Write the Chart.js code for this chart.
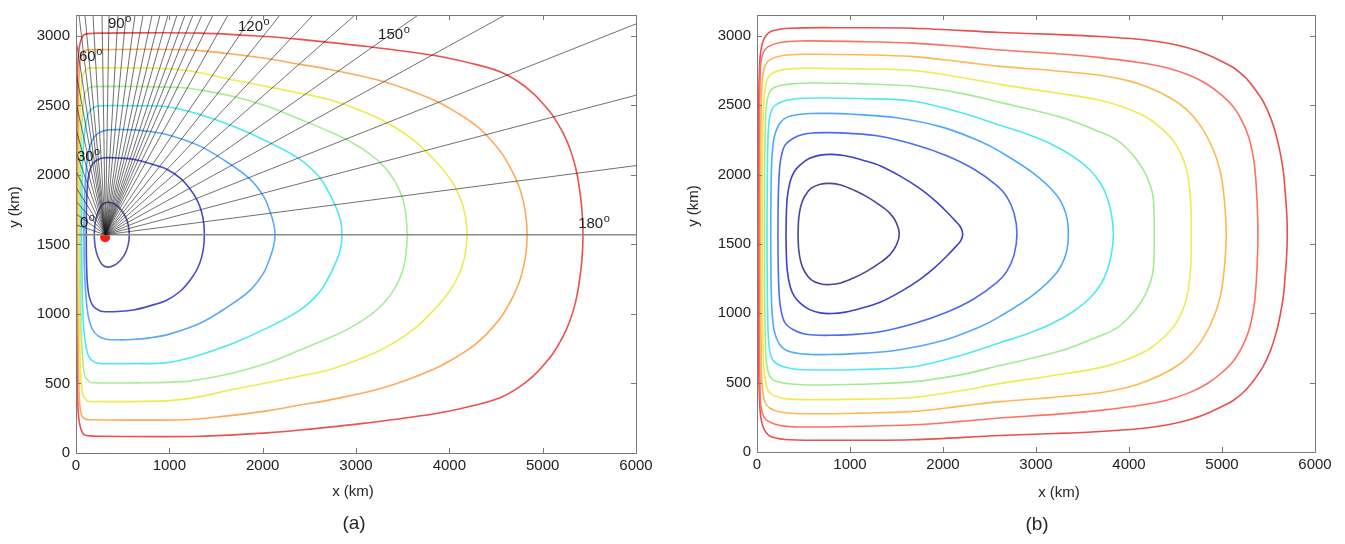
<!DOCTYPE html>
<html>
<head>
<meta charset="utf-8">
<script src="https://cdn.jsdelivr.net/npm/chart.js@4.4.1/dist/chart.umd.min.js"></script>
<style>
  body { margin: 0; background: #fff; }
  #wrap { position: relative; width: 1345px; height: 544px; }
  canvas { position: absolute; top: 0; }
</style>
</head>
<body>
<div id="wrap">
  <canvas id="chartA" width="680" height="544" style="left:0"></canvas>
  <canvas id="chartB" width="665" height="544" style="left:680px"></canvas>
</div>
<script>
// axes (km)
const xTicks = [0, 1000, 2000, 3000, 4000, 5000, 6000];
const yTicks = [0, 500, 1000, 1500, 2000, 2500, 3000];
const xMax = 6000;
const yMax = 3150;

// (a) contours, inner -> outer, [x, y] in km
const a1 = [[195,1570],[205,1655],[235,1730],[280,1785],[340,1803],[410,1790],[475,1755],[530,1700],[560,1640],[571,1570],
  [560,1500],[530,1440],[475,1385],[410,1350],[340,1337],[280,1355],[235,1410],[205,1485],[195,1570]];
const a2 = [[110,1570],[112,1750],[120,1900],[140,2010],[185,2085],[260,2118],[330,2124],[450,2122],[614,2112],[800,2080],[972,2041],[1120,1975],[1222,1898],[1300,1815],[1345,1735],[1368,1655],[1375,1570],
  [1368,1485],[1345,1405],[1300,1325],[1222,1242],[1120,1165],[972,1099],[800,1060],[614,1028],[450,1018],[330,1016],[260,1022],[185,1055],[140,1130],[120,1240],[112,1390],[110,1570]];
const a3 = [[85,1570],[90,1800],[105,2000],[130,2150],[175,2250],[240,2300],[330,2322],[450,2326],[600,2324],[793,2312],[1000,2285],[1329,2207],[1600,2100],[1865,1970],[2010,1845],[2079,1735],[2118,1650],[2133,1570],
  [2118,1490],[2079,1405],[2010,1295],[1865,1170],[1600,1040],[1329,933],[1000,855],[793,828],[600,816],[450,814],[330,818],[240,840],[175,890],[130,990],[105,1140],[90,1340],[85,1570]];
const a4 = [[60,1570],[65,1900],[78,2200],[96,2326],[132,2440],[190,2485],[260,2497],[600,2497],[975,2490],[1300,2440],[1685,2350],[2050,2240],[2400,2112],[2600,1990],[2700,1885],[2790,1760],[2835,1670],[2850,1570],
  [2835,1470],[2790,1380],[2700,1255],[2600,1150],[2400,1028],[2050,900],[1685,790],[1300,700],[975,650],[600,643],[260,643],[190,655],[132,700],[96,814],[78,940],[65,1240],[60,1570]];
const a5 = [[45,1570],[48,1900],[55,2250],[72,2468],[96,2587],[140,2625],[182,2635],[700,2635],[1150,2627],[1329,2611],[1685,2564],[2043,2495],[2400,2400],[2722,2310],[2937,2240],[3150,2150],[3294,2065],[3420,1950],[3500,1830],[3535,1710],[3548,1570],
  [3535,1430],[3500,1310],[3420,1190],[3294,1075],[3150,990],[2937,900],[2722,830],[2400,740],[2043,645],[1685,576],[1329,529],[1150,513],[700,505],[182,505],[140,515],[96,553],[72,672],[55,890],[48,1240],[45,1570]];
const a6 = [[32,1570],[35,2000],[42,2400],[54,2611],[78,2730],[120,2763],[150,2770],[972,2765],[1300,2738],[1685,2682],[2050,2635],[2400,2587],[2722,2540],[3116,2445],[3400,2350],[3652,2231],[3850,2100],[4009,1970],[4100,1860],[4160,1740],[4190,1570],
  [4160,1400],[4100,1280],[4009,1170],[3850,1040],[3652,909],[3400,790],[3116,695],[2722,600],[2400,553],[2050,505],[1685,458],[1300,402],[972,375],[150,370],[120,377],[78,410],[54,529],[42,740],[35,1140],[32,1570]];
const a7 = [[20,1570],[22,2100],[28,2500],[36,2753],[61,2872],[100,2895],[150,2901],[1150,2901],[1600,2875],[2043,2837],[2400,2795],[2722,2758],[3293,2671],[3826,2540],[4100,2440],[4294,2350],[4460,2240],[4580,2137],[4700,1990],[4765,1880],[4815,1730],[4834,1570],
  [4815,1410],[4765,1260],[4700,1150],[4580,1003],[4460,900],[4294,790],[4100,700],[3826,600],[3293,469],[2722,382],[2400,345],[2043,303],[1600,265],[1150,239],[150,239],[100,245],[61,268],[36,387],[28,640],[22,1040],[20,1570]];
const a8 = [[10,1570],[12,2200],[18,2753],[36,2920],[78,3003],[150,3017],[257,3020],[1329,3020],[2043,2995],[2400,2975],[3100,2925],[3826,2860],[4250,2800],[4544,2742],[4740,2670],[4898,2587],[5020,2500],[5112,2423],[5220,2300],[5295,2183],[5350,2060],[5384,1946],[5420,1755],[5432,1570],
  [5420,1385],[5384,1194],[5350,1080],[5295,957],[5220,840],[5112,717],[5020,640],[4898,553],[4740,470],[4544,398],[4250,340],[3826,280],[3100,215],[2400,165],[2043,145],[1329,120],[257,120],[150,123],[78,137],[36,220],[18,387],[12,940],[10,1570]];
const coloursA = ['#5454a8', '#4a4ad0', '#5aaaf8', '#50e8f0', '#a8ec98', '#ecec50', '#ffaa5a', '#ec5050'];

// (a) rays from the red point
const rayCentre = [315, 1570];
const rayEndX = [0, 0, 0, 0, 0, 0, 0, 0, 0, 0,
  32, 96, 182, 279, 354, 450, 536, 632, 718, 815, 900, 986, 1083, 1168, 1254, 1350, 1468, 1629, 1897, 2186, 2540, 2990, 3666, 4598,
  6000, 6000, 6000];
const rayEndY = [1640, 1720, 1810, 1910, 2030, 2170, 2330, 2520, 2740, 2980,
  3150, 3150, 3150, 3150, 3150, 3150, 3150, 3150, 3150, 3150, 3150, 3150, 3150, 3150, 3150, 3150, 3150, 3150, 3150, 3150, 3150, 3150, 3150, 3150,
  3086, 2573, 2067];
const axisLineY = 1570;
const redPoint = [312, 1552];

const angleText = ['0', '30', '60', '90', '120', '150', '180'];
const angleX = [43, 10, 32, 343, 1736, 3237, 5380];
const angleY = [1654, 2131, 2851, 3086, 3065, 3008, 1646];

// (b) contours, inner -> outer
const b1 = [[441,1571],[448,1680],[470,1770],[510,1840],[580,1900],[680,1930],[785,1936],[900,1925],[1050,1885],[1179,1841],[1320,1780],[1430,1720],[1500,1650],[1530,1571],
  [1500,1493],[1430,1423],[1320,1363],[1179,1302],[1050,1258],[900,1218],[785,1207],[680,1213],[580,1243],[510,1303],[470,1373],[448,1463],[441,1571]];
const b2 = [[312,1571],[315,1700],[325,1830],[355,1946],[400,2020],[462,2068],[560,2115],[680,2140],[805,2145],[950,2135],[1130,2105],[1323,2064],[1550,1985],[1753,1898],[1920,1808],[2039,1732],[2130,1668],[2190,1620],[2212,1571],
  [2190,1522],[2130,1475],[2039,1411],[1920,1335],[1753,1245],[1550,1158],[1323,1079],[1130,1038],[950,1008],[805,998],[680,1003],[560,1028],[462,1075],[400,1123],[355,1197],[325,1313],[315,1443],[312,1571]];
const b3 = [[225,1571],[228,1800],[238,2000],[258,2120],[300,2210],[391,2262],[500,2290],[620,2300],[749,2302],[1000,2297],[1323,2276],[1700,2215],[2039,2136],[2330,2040],[2577,1922],[2684,1843],[2765,1720],[2795,1571],
  [2765,1423],[2684,1300],[2577,1221],[2330,1103],[2039,1007],[1700,928],[1323,867],[1000,846],[749,841],[620,843],[500,853],[391,881],[300,933],[258,1023],[238,1143],[228,1343],[225,1571]];
const b4 = [[148,1571],[150,1850],[158,2088],[175,2230],[200,2305],[245,2370],[319,2412],[450,2433],[580,2440],[713,2441],[1000,2436],[1502,2409],[2000,2340],[2398,2240],[2613,2165],[2971,2010],[3222,1851],[3320,1720],[3348,1571],
  [3320,1423],[3222,1292],[2971,1133],[2613,978],[2398,903],[2000,803],[1502,734],[1000,707],[713,702],[580,703],[450,710],[319,731],[245,773],[200,838],[175,913],[158,1055],[150,1293],[148,1571]];
const b5 = [[108,1571],[110,1900],[118,2250],[133,2397],[170,2480],[247,2520],[400,2545],[677,2552],[1100,2548],[1681,2528],[2200,2445],[2613,2355],[2900,2292],[3151,2224],[3400,2130],[3581,2033],[3700,1930],[3760,1844],[3810,1720],[3832,1571],
  [3810,1423],[3760,1299],[3700,1213],[3581,1110],[3400,1013],[3151,919],[2900,851],[2613,788],[2200,698],[1681,615],[1100,595],[677,591],[400,598],[247,623],[170,663],[133,746],[118,893],[110,1243],[108,1571]];
const b6 = [[80,1571],[82,2000],[90,2350],[104,2512],[140,2600],[212,2635],[400,2655],[606,2660],[1100,2655],[1681,2636],[2200,2585],[2613,2520],[3000,2460],[3330,2400],[3620,2325],[3867,2250],[4030,2150],[4154,2036],[4230,1920],[4262,1822],[4272,1571],
  [4262,1321],[4230,1223],[4154,1107],[4030,993],[3867,893],[3620,818],[3330,743],[3000,683],[2613,623],[2200,558],[1681,507],[1100,488],[606,483],[400,488],[212,508],[140,543],[104,631],[90,793],[82,1143],[80,1571]];
const b7 = [[58,1571],[60,2100],[68,2450],[86,2611],[120,2700],[176,2735],[300,2758],[534,2766],[1100,2762],[1677,2750],[2200,2700],[2613,2650],[3200,2590],[3688,2535],[4000,2470],[4226,2397],[4400,2300],[4513,2207],[4600,2080],[4638,1969],[4664,1800],[4668,1571],
  [4664,1343],[4638,1174],[4600,1063],[4513,936],[4400,843],[4226,746],[4000,673],[3688,608],[3200,553],[2613,493],[2200,443],[1677,393],[1100,381],[534,377],[300,385],[176,408],[120,443],[86,532],[68,693],[60,1043],[58,1571]];
const b8 = [[40,1571],[42,2200],[48,2550],[61,2706],[90,2790],[140,2828],[250,2855],[498,2867],[1100,2863],[1681,2850],[2200,2812],[2613,2780],[3200,2748],[3688,2716],[4000,2675],[4226,2623],[4450,2550],[4620,2468],[4760,2360],[4871,2231],[4950,2100],[4997,1969],[5030,1780],[5045,1571],
  [5030,1363],[4997,1174],[4950,1043],[4871,912],[4760,783],[4620,675],[4450,593],[4226,520],[4000,468],[3688,427],[3200,395],[2613,363],[2200,331],[1681,293],[1100,280],[498,276],[250,288],[140,315],[90,353],[61,437],[48,593],[42,943],[40,1571]];
const b9 = [[25,1571],[27,2300],[32,2650],[40,2801],[70,2885],[122,2922],[250,2952],[462,2963],[1100,2958],[1681,2947],[2200,2922],[2613,2898],[3200,2872],[3688,2843],[4100,2808],[4405,2770],[4650,2715],[4839,2651],[5000,2570],[5125,2485],[5220,2380],[5287,2271],[5330,2150],[5355,2034],[5378,1800],[5386,1571],
  [5378,1343],[5355,1109],[5330,993],[5287,872],[5220,763],[5125,658],[5000,573],[4839,492],[4650,428],[4405,373],[4100,335],[3688,300],[3200,271],[2613,245],[2200,221],[1681,196],[1100,185],[462,180],[250,191],[122,221],[70,258],[40,342],[32,493],[27,843],[25,1571]];
const b10 = [[12,1571],[14,2200],[18,2528],[32,2837],[55,2940],[95,3000],[160,3035],[355,3055],[1000,3058],[1677,3055],[2613,3024],[3200,3010],[3688,2995],[4100,2975],[4405,2948],[4650,2910],[4839,2865],[5000,2815],[5125,2770],[5250,2700],[5340,2628],[5440,2530],[5520,2414],[5580,2290],[5627,2152],[5660,2020],[5677,1891],[5695,1730],[5702,1571],
  [5695,1413],[5677,1252],[5660,1123],[5627,991],[5580,853],[5520,729],[5440,613],[5340,515],[5250,443],[5125,373],[5000,328],[4839,278],[4650,233],[4405,195],[4100,168],[3688,148],[3200,133],[2613,119],[1677,88],[1000,85],[355,88],[160,108],[95,143],[55,203],[32,306],[18,615],[14,943],[12,1571]];
const coloursB = ['#48489a', '#4040cc', '#4a6cf0', '#50a8ff', '#50e8f0', '#a0ec90', '#ecec50', '#ffb850', '#ff7060', '#e85050'];

const FONT = '"Liberation Sans", Arial, Helvetica, sans-serif';
const toPts = arr => arr.map(p => ({ x: p[0], y: p[1] }));

function contourSets(list, colours) {
  return list.map((c, i) => ({
    data: toPts(c),
    showLine: true,
    borderColor: colours[i],
    borderWidth: 1.6,
    pointRadius: 0,
    tension: 0.35,
    fill: false,
    order: 2
  }));
}

// box, inward ticks and titles, MATLAB style
function framePlugin(o) {
  return {
    id: 'frame',
    afterDraw(chart) {
      const { ctx, chartArea: ca, scales: { x, y } } = chart;
      ctx.save();
      ctx.strokeStyle = '#7a7a7a';
      ctx.lineWidth = 1;
      ctx.beginPath();
      xTicks.forEach(v => {
        const px = Math.round(x.getPixelForValue(v)) + 0.5;
        ctx.moveTo(px, ca.bottom); ctx.lineTo(px, ca.bottom - 5);
        ctx.moveTo(px, ca.top); ctx.lineTo(px, ca.top + 5);
      });
      yTicks.forEach(v => {
        const py = Math.round(y.getPixelForValue(v)) + 0.5;
        ctx.moveTo(ca.left, py); ctx.lineTo(ca.left + 5, py);
        ctx.moveTo(ca.right, py); ctx.lineTo(ca.right - 5, py);
      });
      ctx.stroke();
      ctx.strokeRect(Math.round(ca.left) + 0.5, Math.round(ca.top) + 0.5,
        Math.round(ca.right - ca.left), Math.round(ca.bottom - ca.top));

      ctx.fillStyle = '#262626';
      ctx.textAlign = 'center';
      ctx.textBaseline = 'middle';
      ctx.font = '15px ' + FONT;
      ctx.fillText('x (km)', o.xTitle[0], o.xTitle[1]);
      ctx.save();
      ctx.translate(o.yTitle[0], o.yTitle[1]);
      ctx.rotate(-Math.PI / 2);
      ctx.fillText('y (km)', 0, 0);
      ctx.restore();
      ctx.font = '19px ' + FONT;
      ctx.fillText(o.panel, o.panelPos[0], o.panelPos[1]);
      ctx.restore();
    }
  };
}

const angleLabelPlugin = {
  id: 'angles',
  afterDatasetsDraw(chart) {
    const { ctx, scales: { x, y } } = chart;
    ctx.save();
    ctx.fillStyle = '#1e1e1e';
    ctx.textAlign = 'left';
    ctx.textBaseline = 'middle';
    angleText.forEach((t, i) => {
      const px = x.getPixelForValue(angleX[i]);
      const py = y.getPixelForValue(angleY[i]);
      ctx.font = '15px ' + FONT;
      ctx.fillText(t, px, py);
      const w = ctx.measureText(t).width;
      ctx.font = '11px ' + FONT;
      ctx.fillText('o', px + w + 0.5, py - 5);
    });
    ctx.restore();
  }
};

function makeChart(id, datasets, yWidth, xHeight, padRight, plugins) {
  return new Chart(document.getElementById(id), {
    type: 'scatter',
    data: { datasets },
    options: {
      responsive: false,
      animation: false,
      events: [],
      layout: { padding: { left: 0, top: 11, right: padRight, bottom: 0 } },
      plugins: { legend: { display: false }, tooltip: { enabled: false } },
      scales: {
        x: {
          type: 'linear', min: 0, max: xMax,
          afterBuildTicks: s => { s.ticks = xTicks.map(v => ({ value: v })); },
          afterFit: s => { s.height = xHeight; },
          grid: { display: false, drawTicks: false },
          border: { display: false },
          ticks: { font: { family: FONT, size: 15 }, color: '#222', padding: 4, maxRotation: 0, autoSkip: false,
            callback: v => String(v) }
        },
        y: {
          type: 'linear', min: 0, max: yMax,
          afterBuildTicks: s => { s.ticks = yTicks.map(v => ({ value: v })); },
          afterFit: s => { s.width = yWidth; },
          grid: { display: false, drawTicks: false },
          border: { display: false },
          ticks: { font: { family: FONT, size: 15 }, color: '#222', padding: 6,
            callback: v => String(v) }
        }
      }
    },
    plugins
  });
}

// panel (a)
const rays = rayEndX.map((ex, i) => ({
  data: [{ x: rayCentre[0], y: rayCentre[1] }, { x: ex, y: rayEndY[i] }],
  showLine: true,
  borderColor: 'rgba(30,30,30,0.8)',
  borderWidth: 0.8,
  pointRadius: 0,
  tension: 0,
  order: 0
}));
const setsA = contourSets([a1, a2, a3, a4, a5, a6, a7, a8], coloursA)
  .concat(rays)
  .concat([{
    data: [{ x: 0, y: axisLineY }, { x: xMax, y: axisLineY }],
    showLine: true, borderColor: '#8a8a8a', borderWidth: 1.6, pointRadius: 0, order: 0
  }, {
    data: [{ x: redPoint[0], y: redPoint[1] }],
    pointRadius: 5, backgroundColor: '#ff1a1a', borderWidth: 0, order: 1
  }]);

makeChart('chartA', setsA, 76, 91, 44, [
  angleLabelPlugin,
  framePlugin({ xTitle: [353, 492], yTitle: [15, 207], panel: '(a)', panelPos: [354, 524] })
]);

// panel (b)
makeChart('chartB', contourSets([b1, b2, b3, b4, b5, b6, b7, b8, b9, b10], coloursB), 77, 92, 30, [
  framePlugin({ xTitle: [1059 - 680, 493], yTitle: [694 - 680, 206], panel: '(b)', panelPos: [1037 - 680, 525] })
]);
</script>
</body>
</html>
